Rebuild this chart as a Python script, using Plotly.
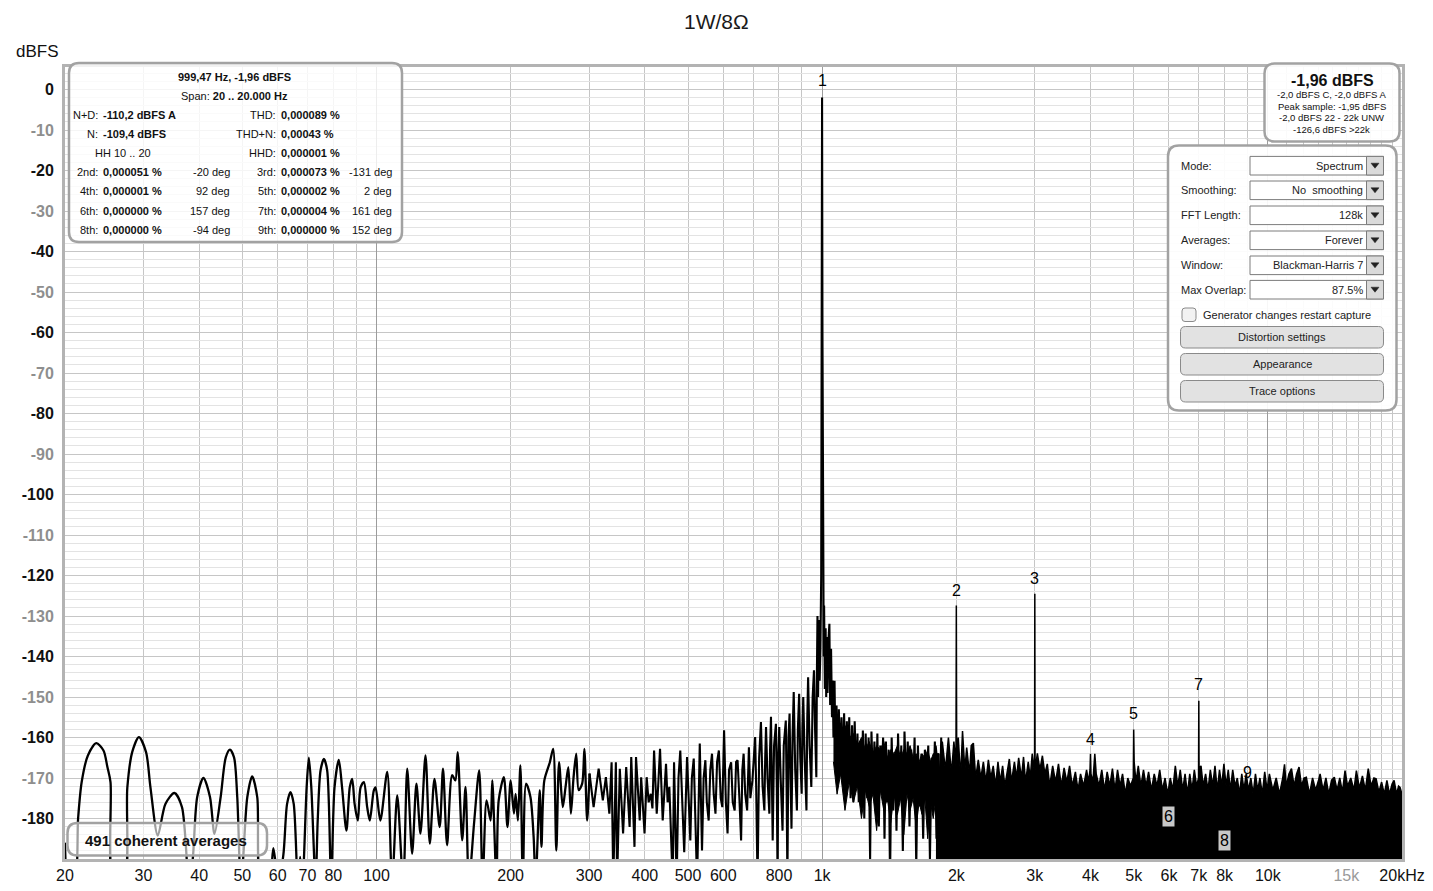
import numpy as np
import plotly.graph_objects as go

# ---------------- data ----------------
lf_freq = [20.0, 20.4, 21.0, 21.4, 21.8, 22.5, 23.5, 24.4, 24.9, 25.3,
           25.7, 27.1, 27.6, 28.3, 29.3, 30.4, 31.1, 32.3, 33.6, 35.2,
           36.6, 37.95, 38.7, 39.6, 40.9, 42.3, 43.3, 44.7, 45.9, 46.9,
           47.9, 48.7, 49.6, 50.2, 51.3, 52.6, 54.0, 55.1, 57.3, 58.7,
           60.2, 61.8, 63.0, 64.1, 65.2, 66.6, 67.4, 68.2, 69.7, 70.5,
           71.4, 73.0, 73.8, 74.9, 76.2, 77.5, 79.1, 80.5, 82.3, 83.7,
           85.6, 87.1, 88.2, 89.3, 90.8, 92.1, 93.7, 95.3, 96.6, 98.6,
           99.5, 102.0, 105.7, 108.4, 111.3, 114.8, 117.2, 120.2, 122.9, 125.5,
           128.8, 131.7, 134.9, 138.6, 141.0, 144.0, 147.8, 150.3, 152.1, 155.7,
           158.4, 161.2, 165.5, 170.0, 173.0, 176.6, 180.3, 181.9, 185.9, 188.0,
           193.1, 196.7, 200.0, 203.4, 205.2, 207.6, 210.3, 213.0, 216.6, 221.5,
           225.2, 227.5, 232.4, 234.5, 238.0, 244.9, 249.1, 253.2, 256.8, 261.8,
           265.6, 269.4, 273.0, 276.8, 280.6, 284.2, 289.4, 292.7, 296.9, 300.6]
lf_db = [-186, -196, -196, -180, -171, -164.5, -161.4, -163.2, -167.3, -171,
         -196, -196, -172.3, -163.6, -159.9, -163.6, -172.3, -184.2, -176.4, -173.7,
         -177.2, -196, -190, -174.7, -170.0, -174.7, -183.8, -174.7, -164.9, -163.0,
         -164.9, -174.7, -196, -190, -174.7, -169.6, -174.7, -196, -196, -187.3,
         -196, -189, -176.4, -173.5, -176.4, -196, -189.5, -196, -172.3, -165.0,
         -172.3, -196, -180.5, -168.1, -165.3, -168.1, -196, -172.3, -165.5, -172.3,
         -183, -172.3, -170.2, -176.4, -180.5, -172.3, -171.0, -177.2, -180.5, -173.1,
         -172.3, -180.5, -168.5, -196, -174.3, -196, -167.7, -188.7, -171.4, -183.7,
         -164.4, -186.2, -170.2, -182.1, -167.7, -186.6, -169.3, -170.6, -163.6, -185.4,
         -172.2, -196, -181.3, -168.1, -196, -175.5, -180.5, -170.6, -196, -175.5,
         -169.8, -182.1, -170.6, -178.8, -173.9, -180.5, -166.9, -196, -171.4, -174.7,
         -184.6, -196, -173.0, -187.0, -170.6, -166.1, -162.8, -187.9, -166.1, -177.2,
         -172.2, -167.3, -178.8, -169.8, -164.0, -173.0, -171.4, -162.8, -180.5, -168.9]

mf_freq = [300.6, 307.0, 315.1, 322.0, 327.1, 333.0, 336.9, 339.8, 344.4, 346.6,
           351.5, 357.5, 363.3, 369.8, 372.9, 379.2, 382.2, 389.6, 392.5, 399.4,
           403.8, 408.0, 412.5, 416.0, 419.6, 425.4, 429.0, 432.7, 438.7, 446.3,
           450.0, 454.0, 462.0, 465.2, 471.5, 476.0, 480.4, 490.3, 497.5, 501.0,
           506.0, 510.0, 515.0, 524.0, 531.3, 537.5, 542.0, 546.9, 551.0, 556.3,
           561.0, 566.0, 571.0, 576.2, 581.0, 586.4, 592.0, 597.0, 602.4, 608.0,
           613.3, 618.0, 624.8, 630.0, 636.3, 641.0, 645.9, 652.0, 657.8, 662.0,
           666.4, 672.0, 678.6, 684.9, 690.0, 697.4, 702.0, 707.3, 711.0, 716.1,
           722.0, 728.8, 735.0, 741.8, 745.0, 748.2, 754.0, 761.2, 764.0, 767.6,
           771.0, 774.4, 780.0, 787.4, 791.0, 794.2, 797.0, 801.0, 807.0, 814.8,
           820.0, 828.7, 832.0, 835.6, 840.0, 845.0, 849.0, 853.4, 858.0, 863.3,
           870.0, 877.6, 882.0, 887.8, 893.0, 899.5, 903.0, 906.9, 914.0, 922.0,
           926.0, 929.9, 937.0, 945.4, 952.0, 958.6, 964.0, 970.3, 973.0, 976.0,
           979.0, 983.0, 987.0, 991.0, 995.0, 997.5, 999.47, 1001.5, 1004.0, 1008.0,
           1010.0, 1014.0, 1018.0, 1021.0, 1024.0, 1028.0, 1033.0, 1038.0, 1042.0, 1047.0,
           1052.0, 1056.0, 1060.0, 1066.0, 1071.0, 1077.0, 1083.0, 1090.0, 1097.0, 1105.0,
           1112.0, 1120.0, 1128.0, 1136.0, 1143.0, 1150.0, 1158.0, 1167.0, 1175.0, 1183.0,
           1192.0, 1200.0, 1208.0, 1217.0, 1225.0, 1234.0, 1243.0, 1252.0, 1262.0, 1271.0,
           1281.0, 1290.0, 1300.0, 1310.0, 1320.0, 1330.0, 1340.0, 1350.0, 1360.0, 1370.0,
           1380.0, 1390.0, 1400.0, 1410.0, 1420.0, 1432.0, 1444.0, 1456.0, 1468.0, 1480.0,
           1492.0, 1505.0, 1517.0, 1530.0, 1543.0, 1556.0, 1570.0, 1584.0, 1598.0, 1612.0,
           1626.0, 1640.0, 1655.0, 1670.0, 1685.0, 1700.0, 1715.0, 1730.0, 1745.0, 1760.0,
           1775.0, 1790.0, 1805.0, 1820.0, 1835.0, 1850.0]
mf_db = [-168.9, -177.2, -167.7, -175.5, -169.8, -178.8, -166.1, -196, -166.1, -196,
         -167.7, -183.7, -167.3, -182.1, -164.8, -187.0, -164.8, -180.5, -169.8, -183.7,
         -169.8, -176.0, -173.9, -177.5, -163.2, -178.8, -171.0, -162.8, -180.5, -166.5,
         -176.0, -172.2, -196, -166.1, -196, -170.0, -163.2, -188.3, -164.8, -175.0,
         -185.4, -170.0, -165.2, -196, -161.5, -187.9, -170.0, -165.6, -176.0, -180.5,
         -168.0, -164.0, -174.0, -178.8, -166.0, -163.2, -175.0, -177.2, -158.2, -176.0,
         -183.7, -168.0, -166.1, -176.0, -178.0, -166.0, -165.6, -175.0, -185.4, -168.0,
         -164.0, -174.0, -178.0, -162.4, -175.0, -170.6, -166.0, -159.9, -172.0, -196,
         -165.0, -156.2, -172.0, -178.0, -165.0, -157.4, -170.0, -178.8, -163.0, -154.9,
         -170.0, -185.4, -162.0, -156.6, -172.0, -196, -165.0, -157.4, -170.0, -183.0,
         -162.0, -155.8, -172.0, -196, -160.0, -154.1, -170.0, -182.5, -160.0, -148.8,
         -168.0, -178.0, -158.0, -149.2, -165.0, -173.9, -158.0, -150.0, -166.0, -178.0,
         -155.0, -145.1, -162.0, -172.2, -150.0, -143.4, -158.0, -169.8, -145.0, -130.0,
         -150.0, -131.0, -146.0, -138.0, -120.0, -60.0, -1.96, -60.0, -118.0, -140.0,
         -127.4, -148.0, -133.0, -150.0, -135.2, -149.0, -136.0, -131.9, -152.0, -138.1,
         -155.0, -145.9, -160.0, -146.0, -165.0, -152.1, -170.0, -153.0, -166.0, -155.0,
         -170.0, -154.0, -172.0, -156.0, -170.0, -155.0, -175.0, -157.0, -176.0, -156.0,
         -172.0, -159.0, -176.0, -161.0, -173.0, -158.3, -180.0, -159.0, -175.0, -160.0,
         -190.0, -158.5, -172.0, -161.0, -178.0, -159.0, -182.0, -162.0, -171.0, -160.0,
         -185.0, -161.0, -176.0, -163.0, -195.0, -160.0, -178.0, -164.0, -183.0, -159.0,
         -175.0, -162.0, -188.0, -158.5, -172.0, -161.0, -182.0, -163.0, -175.0, -160.0,
         -192.0, -162.0, -177.0, -164.0, -185.0, -163.0, -174.0, -162.0, -190.0, -165.0,
         -176.0, -161.0, -185.0, -164.0, -178.0, -160.0]

# dense noise band above the 1 kHz skirt (solid black region)
band_freq = [1060, 1080, 1100, 1125, 1150, 1175, 1200, 1225, 1250, 1275,
             1300, 1325, 1350, 1375, 1400, 1425, 1450, 1475, 1500, 1525,
             1550, 1575, 1600, 1625, 1650, 1675, 1700, 1725, 1750, 1775,
             1800, 1830]
band_top = [-152, -156, -158, -157, -160, -159, -162, -160, -163, -161,
            -164, -162, -163, -161, -165, -163, -164, -162, -165, -163,
            -164, -162, -165, -164, -166, -164, -165, -163, -166, -164,
            -164, -164]
band_bottom = [-166, -174, -169, -178, -171, -176, -172, -180, -173, -177,
               -174, -183, -173, -178, -175, -181, -174, -179, -175, -184,
               -174, -178, -175, -182, -176, -179, -175, -185, -176, -180,
               -175, -176]

hf_freq = [1800, 1830, 1860, 1890, 1920, 1950, 1975, 1992, 1996, 2000,
           2004, 2020, 2045, 2065, 2090, 2110, 2140, 2160, 2184, 2210,
           2240, 2270, 2300, 2330, 2360, 2390, 2420, 2450, 2480, 2510,
           2540, 2570, 2600, 2630, 2660, 2700, 2730, 2760, 2800, 2830,
           2860, 2900, 2930, 2960, 2990, 2996, 3000, 3004, 3040, 3080,
           3120, 3160, 3200, 3240, 3290, 3340, 3390, 3440, 3490, 3540,
           3590, 3640, 3700, 3750, 3800, 3860, 3920, 3960, 3990, 4000,
           4010, 4050, 4090, 4120, 4180, 4240, 4300, 4360, 4420, 4480,
           4540, 4600, 4660, 4720, 4790, 4850, 4920, 4990, 5000, 5012,
           5060, 5120, 5190, 5260, 5330, 5400, 5480, 5560, 5640, 5720,
           5800, 5880, 5960, 6040, 6120, 6200, 6280, 6360, 6440, 6520,
           6600, 6680, 6760, 6840, 6920, 6990, 7000, 7010, 7080, 7160,
           7250, 7340, 7430, 7520, 7610, 7700, 7790, 7880, 7970, 8060,
           8150, 8240, 8340, 8440, 8540, 8640, 8740, 8840, 8940, 9050,
           9160, 9270, 9380, 9490, 9600, 9720, 9840, 9960, 10080, 10260,
           10440, 10620, 10800, 10900, 11000, 11150, 11300, 11450, 11600, 11750,
           11900, 12050, 12200, 12400, 12600, 12800, 13000, 13100, 13300, 13500,
           13700, 13900, 14100, 14300, 14500, 14700, 14900, 15100, 15350, 15600,
           15800, 16050, 16300, 16550, 16800, 17050, 17300, 17500, 17750, 18000,
           18250, 18500, 18750, 19000, 19200, 19450, 19650, 19800, 20000]
hf_db = [-162, -170, -161, -168, -160, -169, -161, -166, -167, -127.4,
         -167, -160, -170, -158.4, -168, -162.5, -169, -162, -161.4, -170,
         -165.5, -170, -166, -171, -165.5, -170, -167, -172, -166, -171,
         -167, -172, -168, -165.3, -171, -166, -170, -165, -170, -164.8,
         -171, -166, -170, -164, -168, -168, -124.5, -168, -163.9, -168,
         -164.5, -169, -166.5, -172, -167, -171, -166.5, -172, -167.5, -171,
         -167, -172, -168.5, -173, -169, -172, -168, -171, -168, -164,
         -169, -171, -164, -169, -172, -168, -173, -168.5, -172, -167.7,
         -173, -168, -172, -169, -174, -170, -172, -170, -158, -166,
         -171, -167, -172, -168, -172, -168.5, -173, -169, -172, -168,
         -173, -170, -174, -170, -173, -167, -172, -168, -173, -169,
         -174, -169, -173, -168, -172, -170, -150.9, -168, -167, -172,
         -169, -173, -168, -172, -167, -173, -168, -172, -166.5, -172,
         -168, -173, -168, -172, -170, -174, -169, -173, -169, -173,
         -170, -174, -169, -173, -170, -174, -168.5, -173, -169, -173,
         -170, -174, -170, -166.6, -172, -169, -167.7, -172, -169, -167.3,
         -172, -170, -169.8, -174, -170, -173, -170.5, -169, -173, -170,
         -174, -170.5, -169.8, -173, -170, -173.5, -168.2, -172, -170, -173,
         -168.2, -172.5, -169.5, -173, -167.7, -172, -170, -170.2, -173.5, -171,
         -174, -170.6, -174, -171.5, -170.6, -174, -172, -172.3, -174]
FLOOR_DB = -200

harm_labels = ['1', '2', '3', '4', '5', '6', '7', '8', '9']
harm_freq = [999.47, 2000, 3000, 4000, 5000, 6000, 7000, 8000, 9000]
harm_label_db = [2.2, -123.7, -120.7, -160.5, -154.1, -179.5, -146.9, -185.4, -168.6]
harm_boxed = [False, False, False, False, False, True, False, True, False]

y_tick_vals = [0, -10, -20, -30, -40, -50, -60, -70, -80, -90, -100,
               -110, -120, -130, -140, -150, -160, -170, -180]
x_tick_vals = [20, 30, 40, 50, 60, 70, 80, 100, 200, 300, 400, 500, 600, 800,
               1000, 2000, 3000, 4000, 5000, 6000, 7000, 8000, 10000, 15000, 20000]
x_tick_text = ['20', '30', '40', '50', '60', '70', '80', '100', '200', '300', '400',
               '500', '600', '800', '1k', '2k', '3k', '4k', '5k', '6k', '7k', '8k',
               '10k', '<span style="color:#9a9a9a">15k</span>', '20kHz']
x_grid_light = [30, 40, 50, 60, 70, 80, 90, 200, 300, 400, 500, 600, 700, 800, 900,
                2000, 3000, 4000, 5000, 6000, 7000, 8000, 9000,
                11000, 12000, 13000, 14000, 15000, 16000, 17000, 18000, 19000]
x_grid_dark = [100, 1000, 10000]

info_title = ['999,47 Hz, -1,96 dBFS', 'Span: <b>20 .. 20.000 Hz</b>']
info_left_lab = ['N+D:', 'N:', '', '2nd:', '4th:', '6th:', '8th:']
info_left_val = ['-110,2 dBFS A', '-109,4 dBFS', '', '0,000051 %', '0,000001 %', '0,000000 %', '0,000000 %']
info_left_deg = ['', '', '', '-20 deg', '92 deg', '157 deg', '-94 deg']
info_right_lab = ['THD:', 'THD+N:', 'HHD:', '3rd:', '5th:', '7th:', '9th:']
info_right_val = ['0,000089 %', '0,00043 %', '0,000001 %', '0,000073 %', '0,000002 %', '0,000004 %', '0,000000 %']
info_right_deg = ['', '', '', '-131 deg', '2 deg', '161 deg', '152 deg']
level_main = '-1,96 dBFS'
level_lines = ['-2,0 dBFS C, -2,0 dBFS A', 'Peak sample: -1,95 dBFS',
               '-2,0 dBFS 22 - 22k UNW', '-126,6 dBFS >22k']
ctl_labels = ['Mode:', 'Smoothing:', 'FFT Length:', 'Averages:', 'Window:', 'Max Overlap:']
ctl_values = ['Spectrum', 'No  smoothing', '128k', 'Forever', 'Blackman-Harris 7', '87.5%']
ctl_buttons = ['Distortion settings', 'Appearance', 'Trace options']
ctl_check = 'Generator changes restart capture'
avg_text = '491 coherent averages'

# ---------------- layout geometry (page pixels -> paper) ----------------
OFF = 8
ML, MT, PW, PH = 57, 59, 1337, 792
FIG_W, FIG_H = 1417, 875
FONT = 'Liberation Sans, Arial, sans-serif'
NARROW = 'Liberation Sans Narrow, Arial Narrow, Liberation Sans, sans-serif'


def px(x):
    return (x - OFF - ML) / PW


def py(y):
    return 1 - (y - OFF - MT) / PH


def rrect(x0, y0, x1, y1, r):
    X0, X1, Yt, Yb = px(x0), px(x1), py(y0), py(y1)
    rx, ry = r / PW, r / PH
    return (f"M {X0+rx},{Yt} L {X1-rx},{Yt} Q {X1},{Yt} {X1},{Yt-ry} "
            f"L {X1},{Yb+ry} Q {X1},{Yb} {X1-rx},{Yb} L {X0+rx},{Yb} "
            f"Q {X0},{Yb} {X0},{Yb+ry} L {X0},{Yt-ry} Q {X0},{Yt} {X0+rx},{Yt} Z")


shapes = []
annots = []


def box(x0, y0, x1, y1, r, fill, line, lw):
    shapes.append(dict(type='path', path=rrect(x0, y0, x1, y1, r), xref='paper', yref='paper',
                       fillcolor=fill, line=dict(color=line, width=lw), layer='above'))


def tri(cx, cy):
    p = (f"M {px(cx-4)},{py(cy-2.5)} L {px(cx+4)},{py(cy-2.5)} L {px(cx)},{py(cy+2.5)} Z")
    shapes.append(dict(type='path', path=p, xref='paper', yref='paper',
                       fillcolor='#222', line=dict(color='#222', width=0.5), layer='above'))


def txt(x, y, s, size=11, xa='left', color='#111', family=FONT, bg=None):
    annots.append(dict(x=px(x), y=py(y), xref='paper', yref='paper', text=s, showarrow=False,
                       xanchor=xa, yanchor='middle', font=dict(size=size, color=color, family=family),
                       bgcolor=bg, borderpad=0))


# ---------------- traces ----------------
fig = go.Figure()
fig.add_trace(go.Scatter(x=lf_freq, y=lf_db, mode='lines', hoverinfo='skip',
                         line=dict(color='black', width=2.3, shape='spline', smoothing=0.8)))
fig.add_trace(go.Scatter(x=band_freq + band_freq[::-1], y=band_top + band_bottom[::-1],
                         mode='lines', fill='toself', fillcolor='black', hoverinfo='skip',
                         line=dict(color='black', width=1)))
fig.add_trace(go.Scatter(x=mf_freq, y=mf_db, mode='lines', hoverinfo='skip',
                         line=dict(color='black', width=2.1)))
fig.add_trace(go.Scatter(x=hf_freq + [hf_freq[-1], hf_freq[0]], y=hf_db + [FLOOR_DB, FLOOR_DB],
                         mode='lines', fill='toself', fillcolor='black', hoverinfo='skip',
                         line=dict(color='black', width=1.5)))
fig.add_trace(go.Scatter(x=harm_freq, y=harm_label_db, xaxis='x2', mode='markers',
                         marker=dict(opacity=0), hoverinfo='skip'))

# harmonic labels
for lab, f, d, bx in zip(harm_labels, harm_freq, harm_label_db, harm_boxed):
    annots.append(dict(x=np.log10(f), y=d, xref='x', yref='y', text=lab, showarrow=False,
                       xanchor='center', yanchor='middle',
                       font=dict(size=16, color='black', family=FONT),
                       bgcolor='#c8c8c8' if bx else None, borderpad=1))

# title and axis caption
txt(716, 22, '1W/8Ω', size=21, xa='center', color='#1a1a1a')
txt(60, 52, 'dBFS', size=17, xa='right', color='#111')

# ---- info box (top left)
box(69, 63, 402, 242, 10, 'rgba(255,255,255,0.82)', '#a2a2a2', 2.5)
row_y = [76.5, 95.5, 115, 134, 153, 172, 191, 210.5, 229.5]
txt(234, row_y[0], '<b>' + info_title[0] + '</b>', xa='center')
txt(234, row_y[1], info_title[1], xa='center')
for i in range(7):
    yy = row_y[i + 2]
    if info_left_lab[i]:
        txt(98.5, yy, info_left_lab[i], xa='right')
        txt(101.5, yy, '<b>' + info_left_val[i] + '</b>')
    if info_left_deg[i]:
        txt(230.5, yy, info_left_deg[i], xa='right')
    txt(276.5, yy, info_right_lab[i], xa='right')
    txt(279.5, yy, '<b>' + info_right_val[i] + '</b>')
    if info_right_deg[i]:
        txt(392.5, yy, info_right_deg[i], xa='right')
txt(123, row_y[4], 'HH 10 .. 20', xa='center')

# ---- level box (top right)
box(1264.5, 63.5, 1399.5, 141.5, 10, 'rgba(255,255,255,0.9)', '#a2a2a2', 2.5)
txt(1332, 80.5, '<b>' + level_main + '</b>', size=16, xa='center')
for i, s in enumerate(level_lines):
    txt(1331.5, 94.5 + 11.6 * i, s, size=9.5, xa='center')

# ---- control panel
box(1168, 145.5, 1396.5, 410.5, 11, 'rgba(255,255,255,0.92)', '#a2a2a2', 2.5)
row_c = [165.7, 190.3, 215.3, 240.3, 265.3, 289.7]
for i in range(6):
    cy = row_c[i]
    txt(1179.5, cy, ctl_labels[i], size=11, color='#222')
    shapes.append(dict(type='rect', xref='paper', yref='paper', x0=px(1250), x1=px(1383.5),
                       y0=py(cy + 9.3), y1=py(cy - 9.3), fillcolor='white',
                       line=dict(color='#7c7c7c', width=1), layer='above'))
    shapes.append(dict(type='rect', xref='paper', yref='paper', x0=px(1366.5), x1=px(1383.5),
                       y0=py(cy + 9.3), y1=py(cy - 9.3), fillcolor='#dadada',
                       line=dict(color='#7c7c7c', width=1), layer='above'))
    tri(1375, cy)
    txt(1363.5, cy, ctl_values[i], size=11, xa='right', color='#222')
box(1182, 308, 1196, 321.5, 3, '#f2f2f2', '#8a8a8a', 1)
txt(1201.5, 314.5, ctl_check, size=11, color='#222')
btn_y = [(326.5, 348), (353.5, 375), (380.5, 402)]
for (y0, y1), s in zip(btn_y, ctl_buttons):
    box(1180.5, y0, 1383.5, y1, 5, '#e2e2e2', '#8a8a8a', 1)
    txt(1282, (y0 + y1) / 2, s, size=11, xa='center', color='#222')

# ---- averages box (bottom left)
box(67.5, 823, 267, 855.5, 10, 'rgba(255,255,255,0.62)', '#a2a2a2', 2.5)
txt(166, 840, '<b>' + avg_text + '</b>', size=15, xa='center', color='#111')

y_tick_text = [('<b>%d</b>' % v) if (v % 20 == 0) else
               ('<b><span style="color:#8e8e8e">%d</span></b>' % v) for v in y_tick_vals]

xr = [np.log10(20), np.log10(20000)]
fig.update_layout(
    width=FIG_W, height=FIG_H,
    margin=dict(l=ML, r=FIG_W - ML - PW, t=MT, b=FIG_H - MT - PH, autoexpand=False),
    paper_bgcolor='white', plot_bgcolor='white', showlegend=False,
    xaxis=dict(type='log', range=xr, tickmode='array', tickvals=x_tick_vals, ticktext=x_tick_text,
               showgrid=False, zeroline=False, ticks='', ticklabelstandoff=0, automargin=False,
               minor=dict(tickmode='array', tickvals=x_grid_light, showgrid=True,
                          gridcolor='#c6c6c6', gridwidth=1, ticks=''),
               showline=True, linecolor='#b3b3b3', linewidth=3, mirror=True,
               tickfont=dict(family=NARROW, size=16, color='#111')),
    xaxis2=dict(type='log', range=xr, overlaying='x', anchor='y', tickmode='array',
                tickvals=x_grid_dark, showticklabels=False, showgrid=True, gridcolor='#9c9c9c',
                zeroline=False, ticks='', showline=False),
    yaxis=dict(range=[-190, 5.56], tickmode='array', tickvals=y_tick_vals, ticktext=y_tick_text,
               showgrid=True, gridcolor='#c6c6c6', zeroline=False, ticks='', ticklabelstandoff=5,
               automargin=False,
               minor=dict(dtick=2, showgrid=True, gridcolor='#e3e3e3', ticks=''),
               showline=True, linecolor='#b3b3b3', linewidth=3, mirror=True,
               tickfont=dict(family=FONT, size=16, color='#111')),
    shapes=shapes, annotations=annots,
)

fig.write_html("out.html")
